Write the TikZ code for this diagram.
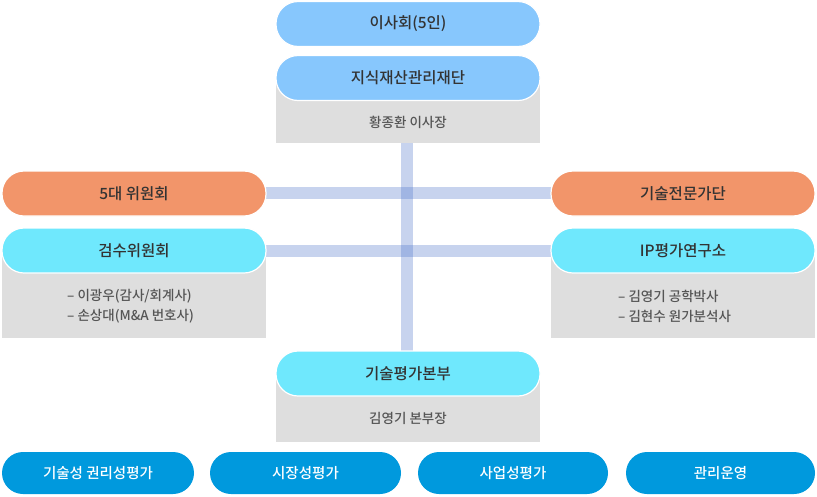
\documentclass[tikz,border=0pt]{standalone}
\usepackage{fontspec}
\setmainfont{Noto Sans CJK KR}[UprightFont=* Medium]

\definecolor{boardblue}{RGB}{135,199,253}
\definecolor{panelorange}{RGB}{242,149,106}
\definecolor{panelcyan}{RGB}{111,232,253}
\definecolor{panelgray}{RGB}{222,222,222}
\definecolor{bottomblue}{RGB}{0,153,221}
\definecolor{linkblue}{RGB}{70,110,200}
\definecolor{titletext}{RGB}{51,51,51}
\definecolor{subtext}{RGB}{85,85,85}

\tikzset{
    pill/.style={draw=white,line width=1.2pt,rounded corners=22pt,minimum width=264pt,minimum height=45pt,inner sep=0pt,text=titletext,font=\fontsize{15.5}{17}\selectfont},
    panel/.style={fill=panelgray,minimum width=264pt,inner sep=0pt},
    note/.style={inner sep=0pt,text=subtext,font=\fontsize{13.5}{20}\selectfont,align=left},
    task/.style={fill=bottomblue,rounded corners=21pt,minimum width=192pt,minimum height=42pt,inner sep=0pt,text=white,font=\fontsize{14.5}{16}\selectfont},
    link/.style={linkblue,opacity=0.3,line width=12pt}
}

\begin{document}
\begin{tikzpicture}[x=1pt,y=-1pt]
    \useasboundingbox (0,0) rectangle (817,496);

    % gray panels under the titles
    \node[panel,minimum height=65pt](foundp)at(408,110.5){};
    \node[panel,minimum height=88pt](auditp)at(134,294){};
    \node[panel,minimum height=88pt](iplabp)at(683,294){};
    \node[panel,minimum height=68pt](techp)at(408,408){};

    % connectors
    \coordinate(vtop)at(407,143);
    \coordinate(vbot)at(407,351);
    \draw[link](vtop)--(vbot);
    \draw[link](266,193)coordinate(fiveR)--(551,193)coordinate(expertL);
    \draw[link](266,251)coordinate(auditR)--(551,251)coordinate(iplabL);

    % titles
    \node[pill,fill=boardblue](board)at(408,24){이사회(5인)};
    \node[pill,fill=boardblue](found)at(408,78){지식재산관리재단};
    \node[pill,fill=panelorange](five)at(134,193.5){5대 위원회};
    \node[pill,fill=panelorange](expert)at(683,193.5){기술전문가단};
    \node[pill,fill=panelcyan](audit)at(134,250.5){검수위원회};
    \node[pill,fill=panelcyan](iplab)at(683,250.5){IP평가연구소};
    \node[pill,fill=panelcyan](tech)at(408,373.5){기술평가본부};

    % panel texts
    \node[note](foundt)at(408,122){황종환 이사장};
    \node[note,anchor=west](auditt)at(67,306){– 이광우(감사/회계사)\\– 손상대(M\&A 번호사)};
    \node[note,anchor=west](iplabt)at(618,306){– 김영기 공학박사\\– 김현수 원가분석사};
    \node[note](techt)at(408,418){김영기 본부장};

    % bottom row
    \node[task](rights)at(98,473){기술성 권리성평가};
    \node[task,minimum width=191pt](market)at(305.5,473){시장성평가};
    \node[task,minimum width=190pt](biz)at(513,473){사업성평가};
    \node[task,minimum width=189pt](manage)at(720.5,473){관리운영};
\end{tikzpicture}
\end{document}
